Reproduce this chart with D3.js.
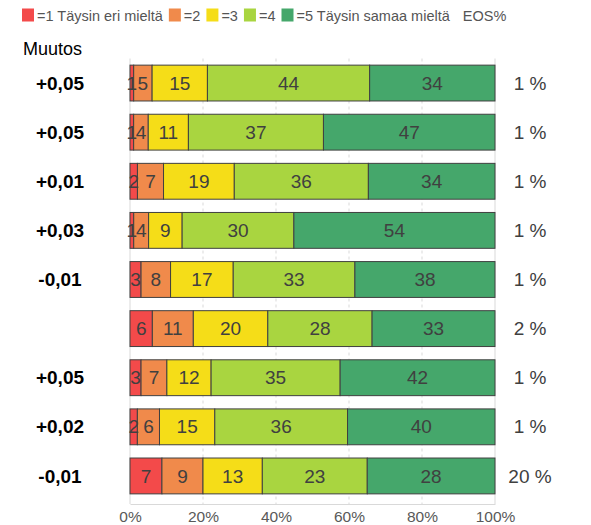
<!DOCTYPE html>
<html>
<head>
<meta charset="utf-8">
<script src="https://cdn.jsdelivr.net/npm/d3@7"></script>
<style>
  html, body { margin: 0; padding: 0; background: #fff; }
  svg { display: block; font-family: "Liberation Sans", Arial, sans-serif; }
</style>
</head>
<body>
<div id="chart"></div>
<script>
// Likert stacked bars, each row scaled to 100 % of the answers (EOS left out).

const ROW_LABELS = ["+0,05", "+0,05", "+0,01", "+0,03", "-0,01", "", "+0,05", "+0,02", "-0,01"];
const S1 = [1, 1, 2, 1, 3, 6, 3, 2, 7];
const S2 = [5, 4, 7, 4, 8, 11, 7, 6, 9];
const S3 = [15, 11, 19, 9, 17, 20, 12, 15, 13];
const S4 = [44, 37, 36, 30, 33, 28, 35, 36, 23];
const S5 = [34, 47, 34, 54, 38, 33, 42, 40, 28];
const EOS = [1, 1, 1, 1, 1, 2, 1, 1, 20];

const KEYS = ["s1", "s2", "s3", "s4", "s5"];
const LEGEND_LABELS = ["=1 Täysin eri mieltä", "=2", "=3", "=4", "=5 Täysin samaa mieltä"];
const COLORS = {
    s1: "#f34a4a",
    s2: "#f08a4b",
    s3: "#f5dd18",
    s4: "#a9d540",
    s5: "#45a76b",
};
const X_TICKS = [0, 0.2, 0.4, 0.6, 0.8, 1];

const WIDTH = 591;
const HEIGHT = 525;
const PLOT = { left: 130, right: 495, top: 58.5, bottom: 500.5, axis: 504 };

const rows = ROW_LABELS.map((label, i) => ({
    idx: i, label,
    s1: S1[i], s2: S2[i], s3: S3[i], s4: S4[i], s5: S5[i],
    eos: EOS[i],
}));

const stacked = d3.stack().keys(KEYS).offset(d3.stackOffsetExpand)(rows);

const svg = d3.select("#chart").append("svg")
    .attr("width", WIDTH)
    .attr("height", HEIGHT);

const x = d3.scaleLinear().domain([0, 1]).range([PLOT.left, PLOT.right]);
const y = d3.scaleBand()
    .domain(rows.map((d) => d.idx))
    .range([PLOT.top, PLOT.bottom])
    .paddingInner(0.27)
    .paddingOuter(0.135);

// Gridlines: solid at the ends, dashed between
svg.append("g")
    .selectAll("line")
    .data(X_TICKS)
    .join("line")
    .attr("x1", (d) => x(d)).attr("x2", (d) => x(d))
    .attr("y1", PLOT.top).attr("y2", PLOT.axis)
    .attr("stroke", "#d9d9d9")
    .attr("stroke-width", 1)
    .attr("stroke-dasharray", (d) => (d === 0 || d === 1 ? null : "3,3"));

// Bottom axis
const xAxis = svg.append("g")
    .attr("transform", `translate(0,${PLOT.axis})`)
    .call(d3.axisBottom(x)
        .tickValues(X_TICKS)
        .tickFormat(d3.format(".0%"))
        .tickSize(0)
        .tickPadding(7));
xAxis.select(".domain").attr("stroke", "#d9d9d9");
xAxis.selectAll("text")
    .attr("fill", "#595959")
    .style("font-size", "15.5px")
    .style("font-family", "Liberation Sans, Arial, sans-serif");

// Bars
const layer = svg.append("g")
    .selectAll("g")
    .data(stacked)
    .join("g")
    .attr("fill", (s) => COLORS[s.key]);

layer.selectAll("rect")
    .data((s) => s)
    .join("rect")
    .attr("x", (d) => x(d[0]))
    .attr("y", (d) => y(d.data.idx))
    .attr("width", (d) => x(d[1]) - x(d[0]))
    .attr("height", y.bandwidth())
    .attr("stroke", "#404040")
    .attr("stroke-width", 1);

// Segment values
const valueG = svg.append("g");
stacked.forEach((s) => {
    valueG.selectAll(null)
        .data(s)
        .join("text")
        .attr("x", (d) => (x(d[0]) + x(d[1])) / 2)
        .attr("y", (d) => y(d.data.idx) + y.bandwidth() / 2)
        .attr("dy", "0.35em")
        .attr("text-anchor", "middle")
        .attr("fill", "#404040")
        .style("font-size", "19px")
        .text((d) => d.data[s.key]);
});

// Left change labels
svg.append("text")
    .attr("x", 23).attr("y", 55)
    .attr("fill", "#000")
    .style("font-size", "18px")
    .text("Muutos");

svg.append("g")
    .selectAll("text")
    .data(rows)
    .join("text")
    .attr("x", 60)
    .attr("y", (d) => y(d.idx) + y.bandwidth() / 2)
    .attr("dy", "0.35em")
    .attr("text-anchor", "middle")
    .attr("fill", "#000")
    .style("font-size", "19px")
    .style("font-weight", "bold")
    .text((d) => d.label);

// Right EOS labels
svg.append("g")
    .selectAll("text")
    .data(rows)
    .join("text")
    .attr("x", 530)
    .attr("y", (d) => y(d.idx) + y.bandwidth() / 2)
    .attr("dy", "0.35em")
    .attr("text-anchor", "middle")
    .attr("fill", "#404040")
    .style("font-size", "19px")
    .text((d) => `${d.eos} %`);

// Legend
const legend = svg.append("g").attr("transform", "translate(22,0)");
let lx = 0;
KEYS.forEach((k, i) => {
    legend.append("rect")
        .attr("x", lx).attr("y", 8.5)
        .attr("width", 12).attr("height", 13)
        .attr("fill", COLORS[k]);
    const t = legend.append("text")
        .attr("x", lx + 15).attr("y", 20.5)
        .attr("fill", "#555")
        .style("font-size", "14.5px")
        .text(LEGEND_LABELS[i]);
    lx += 15 + t.node().getComputedTextLength() + 6;
});
legend.append("text")
    .attr("x", lx + 7).attr("y", 20.5)
    .attr("fill", "#555")
    .style("font-size", "14.5px")
    .text("EOS%");
</script>
</body>
</html>
